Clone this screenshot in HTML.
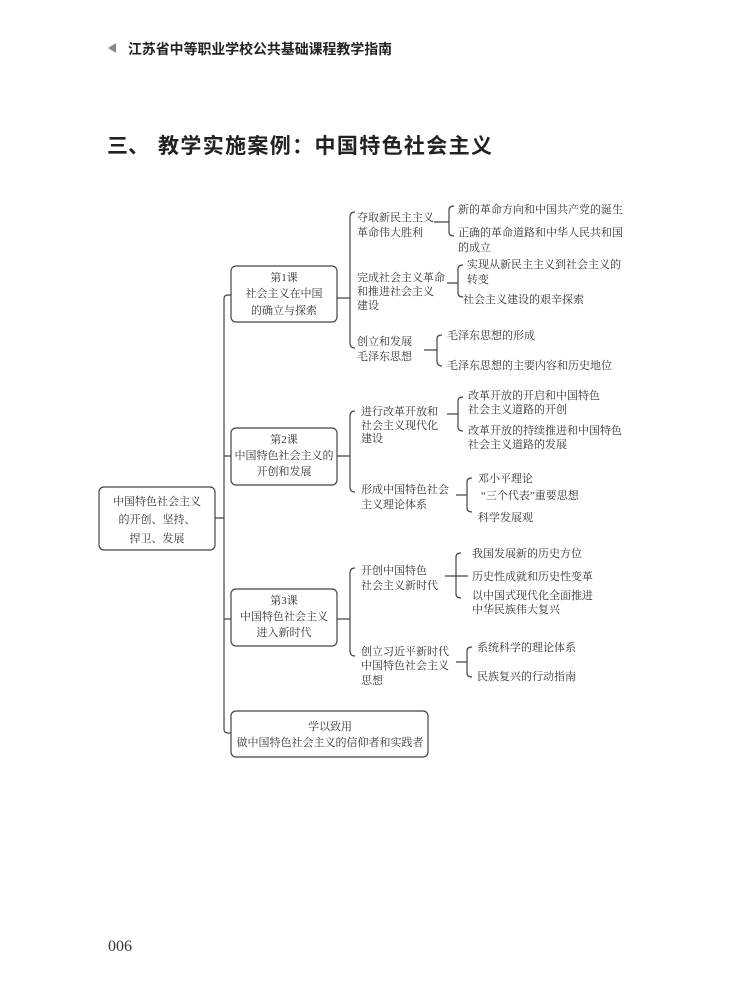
<!DOCTYPE html>
<html><head><meta charset="utf-8"><style>
html,body{margin:0;padding:0;background:#fff;}
svg{display:block}
.t{font-family:"Liberation Serif","Noto Serif CJK SC",serif;font-size:11px;fill:#333}
.h{font-family:"Liberation Sans","Noto Sans CJK SC",sans-serif;fill:#222}
.l{stroke:#444;stroke-width:1.2;fill:none}
.b{stroke:#444;stroke-width:1.2;fill:#fff}
</style></head><body>
<svg width="750" height="993" viewBox="0 0 750 993">
<polygon points="108,48 116,43 116,53" fill="#888"/>
<text class="h" x="128" y="54" font-size="14" font-weight="bold" textLength="264" lengthAdjust="spacingAndGlyphs">江苏省中等职业学校公共基础课程教学指南</text>
<text class="h" x="107" y="153" font-size="21" font-weight="bold">三、</text>
<text class="h" x="158" y="153" font-size="21" font-weight="bold" textLength="334" lengthAdjust="spacing">教学实施案例：中国特色社会主义</text>

<!-- root -->
<rect class="b" x="99" y="487" width="116" height="63" rx="5"/>
<text class="t" text-anchor="middle" x="157" y="505">中国特色社会主义</text>
<text class="t" text-anchor="middle" x="157" y="523">的开创、坚持、</text>
<text class="t" text-anchor="middle" x="157" y="542">捍卫、发展</text>
<path class="l" d="M215,518 H224 M231,295 H228 Q224,295 224,299 V729 Q224,733 228,733 H231 M224,456 H231 M224,619 H231"/>

<!-- box1 -->
<rect class="b" x="231" y="266" width="106" height="56" rx="5"/>
<text class="t" text-anchor="middle" x="284" y="281">第1课</text>
<text class="t" text-anchor="middle" x="284" y="297">社会主义在中国</text>
<text class="t" text-anchor="middle" x="284" y="314">的确立与探索</text>
<path class="l" d="M337,298 H350 M355,212 Q350,212 350,217 V343 Q350,348 355,348"/>
<text class="t" x="357" y="221">夺取新民主主义</text>
<text class="t" x="357" y="236">革命伟大胜利</text>
<text class="t" x="357" y="281">完成社会主义革命</text>
<text class="t" x="357" y="295">和推进社会主义</text>
<text class="t" x="357" y="309">建设</text>
<text class="t" x="357" y="345">创立和发展</text>
<text class="t" x="357" y="360">毛泽东思想</text>
<path class="l" d="M434,222 H449 M454,206 Q449,206 449,210 V232 Q449,236 454,236"/>
<text class="t" x="458" y="213">新的革命方向和中国共产党的诞生</text>
<text class="t" x="458" y="236">正确的革命道路和中华人民共和国</text>
<text class="t" x="458" y="251">的成立</text>
<path class="l" d="M447,283 H458 M463,265 Q458,265 458,269 V293 Q458,297 463,297"/>
<text class="t" x="467" y="268">实现从新民主主义到社会主义的</text>
<text class="t" x="467" y="283">转变</text>
<text class="t" x="463" y="303">社会主义建设的艰辛探索</text>
<path class="l" d="M424,350 H437 M442,335 Q437,335 437,339 V361 Q437,366 442,366"/>
<text class="t" x="447" y="339">毛泽东思想的形成</text>
<text class="t" x="447" y="369">毛泽东思想的主要内容和历史地位</text>

<!-- box2 -->
<rect class="b" x="231" y="428" width="106" height="57" rx="5"/>
<text class="t" text-anchor="middle" x="284" y="443">第2课</text>
<text class="t" text-anchor="middle" x="284" y="459">中国特色社会主义的</text>
<text class="t" text-anchor="middle" x="284" y="475">开创和发展</text>
<path class="l" d="M337,456 H350 M355,411 Q350,411 350,416 V487 Q350,492 355,492"/>
<text class="t" x="361" y="415">进行改革开放和</text>
<text class="t" x="361" y="429">社会主义现代化</text>
<text class="t" x="361" y="442">建设</text>
<text class="t" x="361" y="493">形成中国特色社会</text>
<text class="t" x="361" y="508">主义理论体系</text>
<path class="l" d="M447,414 H458 M463,397 Q458,397 458,401 V427 Q458,431 463,431"/>
<text class="t" x="468" y="399">改革开放的开启和中国特色</text>
<text class="t" x="468" y="413">社会主义道路的开创</text>
<text class="t" x="468" y="434">改革开放的持续推进和中国特色</text>
<text class="t" x="468" y="448">社会主义道路的发展</text>
<path class="l" d="M456,495 H467 M472,478 Q467,478 467,482 V508 Q467,512 472,512"/>
<text class="t" x="478" y="482">邓小平理论</text>
<text class="t" x="481" y="499">“三个代表”重要思想</text>
<text class="t" x="478" y="521">科学发展观</text>

<!-- box3 -->
<rect class="b" x="231" y="589" width="106" height="57" rx="5"/>
<text class="t" text-anchor="middle" x="284" y="604">第3课</text>
<text class="t" text-anchor="middle" x="284" y="620">中国特色社会主义</text>
<text class="t" text-anchor="middle" x="284" y="636">进入新时代</text>
<path class="l" d="M337,619 H350 M355,568 Q350,568 350,573 V651 Q350,656 355,656"/>
<text class="t" x="361" y="574">开创中国特色</text>
<text class="t" x="361" y="589">社会主义新时代</text>
<text class="t" x="361" y="655">创立习近平新时代</text>
<text class="t" x="361" y="669">中国特色社会主义</text>
<text class="t" x="361" y="684">思想</text>
<path class="l" d="M445,576 H468 M461,553 Q456,553 456,557 V594 Q456,598 461,598"/>
<text class="t" x="472" y="557">我国发展新的历史方位</text>
<text class="t" x="472" y="580">历史性成就和历史性变革</text>
<text class="t" x="472" y="599">以中国式现代化全面推进</text>
<text class="t" x="472" y="613">中华民族伟大复兴</text>
<path class="l" d="M456,662 H467 M472,647 Q467,647 467,651 V673 Q467,677 472,677"/>
<text class="t" x="477" y="651">系统科学的理论体系</text>
<text class="t" x="477" y="680">民族复兴的行动指南</text>

<!-- box4 -->
<rect class="b" x="231" y="711" width="197" height="46" rx="5"/>
<text class="t" text-anchor="middle" x="330" y="730">学以致用</text>
<text class="t" text-anchor="middle" x="330" y="746">做中国特色社会主义的信仰者和实践者</text>

<text x="108" y="951" font-family="Liberation Serif,serif" font-size="16" fill="#333">006</text>
</svg>
</body></html>
